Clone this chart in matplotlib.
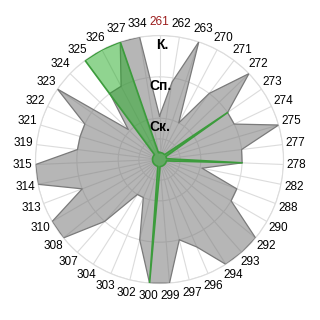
import numpy as np
import matplotlib
matplotlib.use("Agg")
import matplotlib.pyplot as plt

plt.rcParams["font.family"] = ["Liberation Sans", "DejaVu Sans"]

CATS = ["261", "262", "263", "270", "271", "272", "273", "274", "275", "277",
        "278", "282", "288", "290", "292", "293", "294", "296", "297", "299",
        "300", "302", "303", "304", "307", "308", "310", "313", "314", "315",
        "319", "321", "322", "323", "324", "325", "326", "327", "334"]
GRAY = [1.05, 1.9, 3, 1, 2, 3, 2, 2, 3, 2,
        2, 1.05, 2, 2, 3, 3, 3, 2.3, 2, 3,
        3, 2, 1, 1, 2, 3, 3, 2, 3, 3,
        2, 2, 2, 3, 1.05, 2, 2, 3, 3]
GREEN = [0.17, 0.17, 0.17, 0.17, 0.17, 0.17, 2, 0.17, 0.17, 0.17,
         2, 0.17, 0.17, 0.17, 0.17, 0.17, 0.17, 0.17, 0.17, 0.17,
         3, 0.17, 0.17, 0.17, 0.17, 0.17, 0.17, 0.17, 0.17, 0.17,
         0.17, 0.17, 0.17, 0.17, 0.17, 3, 3, 3, 0.17]
LEVELS = [1, 2, 3]
LEVEL_NAMES = ["Ск.", "Сп.", "К."]

n = len(CATS)
ang = np.linspace(0, 2 * np.pi, n, endpoint=False)
ang_c = np.append(ang, ang[0])

fig = plt.figure(figsize=(3.2, 3.2), dpi=100)
ax = fig.add_axes([0.111, 0.114, 0.775, 0.775], projection="polar")
ax.set_theta_zero_location("N")
ax.set_theta_direction(-1)
ax.set_axisbelow(True)

g = np.append(GRAY, GRAY[0])
ax.fill(ang_c, g, color="#7a7a7a", alpha=0.55, lw=0, zorder=2)
ax.plot(ang_c, g, color="#7a7a7a", lw=0.9, zorder=3)

gr = np.append(GREEN, GREEN[0])
ax.fill(ang_c, gr, color="#22aa22", alpha=0.5, lw=0, zorder=4)
ax.plot(ang_c, gr, color="#3c9c3c", lw=1.2, zorder=5)

ax.set_ylim(0, 3)
ax.set_yticks([0.5, 1, 2, 3])
ax.set_yticklabels([])
ax.set_xticks(ang)
ax.set_xticklabels(CATS, fontsize=8.5)
ax.get_xticklabels()[0].set_color("#9b1c1c")
ax.tick_params(axis="x", pad=-1)
ax.grid(color="#dcdcdc", lw=0.8)
ax.spines["polar"].set_color("#dcdcdc")

for lv, name in zip(LEVELS, LEVEL_NAMES):
    ax.text(0.02, lv - 0.22, name, ha="center", va="center",
            fontsize=10, fontweight="bold", zorder=6)

fig.savefig("out.png", dpi=100)
